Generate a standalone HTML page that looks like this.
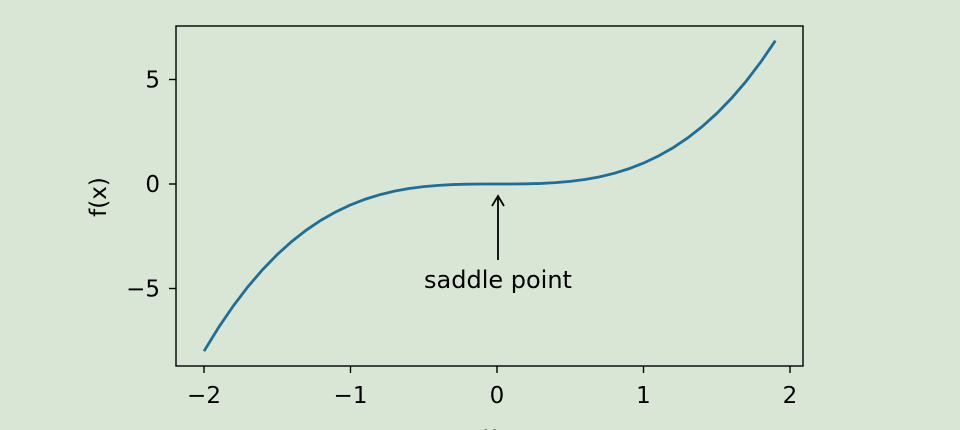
<!DOCTYPE html>
<html><head><meta charset="utf-8"><style>
html,body{margin:0;padding:0;background:#d9e6d6;}
svg{display:block;font-family:"DejaVu Sans","Liberation Sans",sans-serif;}
</style></head><body>
<svg id="chart" width="960" height="430" viewBox="0 0 960 430" xmlns="http://www.w3.org/2000/svg">
<rect x="0" y="0" width="960" height="430" fill="#d9e6d6"/>
<g id="ticks"></g>
<path id="curve" fill="none" stroke="#1f6e99" stroke-width="2.8"/>
<rect x="176" y="26" width="627" height="340" fill="none" stroke="#000" stroke-width="1.4"/>
<text transform="translate(106,197) rotate(-90)" text-anchor="middle" font-size="23">f(x)</text>
<text x="490" y="442" text-anchor="middle" font-size="23">x</text>
<g>
<line x1="498" y1="260" x2="498" y2="197" stroke="#000" stroke-width="1.8"/>
<path d="M492,206 L498,196 L504,206" fill="none" stroke="#000" stroke-width="1.8"/>
<text x="498" y="288" text-anchor="middle" font-size="24">saddle point</text>
</g>
</svg>
<script>
const xValues=[-2,-1.9,-1.8,-1.7,-1.6,-1.5,-1.4,-1.3,-1.2,-1.1,-1,-0.9,-0.8,-0.7,-0.6,-0.5,-0.4,-0.3,-0.2,-0.1,0,0.1,0.2,0.3,0.4,0.5,0.6,0.7,0.8,0.9,1,1.1,1.2,1.3,1.4,1.5,1.6,1.7,1.8,1.9];
const yValues=[-8,-6.859,-5.832,-4.913,-4.096,-3.375,-2.744,-2.197,-1.728,-1.331,-1,-0.729,-0.512,-0.343,-0.216,-0.125,-0.064,-0.027,-0.008,-0.001,0,0.001,0.008,0.027,0.064,0.125,0.216,0.343,0.512,0.729,1,1.331,1.728,2.197,2.744,3.375,4.096,4.913,5.832,6.859];
const xTicks=[-2,-1,0,1,2];
const yTicks=[-5,0,5];
const xTickLabels=["\u22122","\u22121","0","1","2"];
const yTickLabels=["\u22125","0","5"];
const sx=v=>497+v*146.5;
const sy=v=>184-v*20.9;
const ns="http://www.w3.org/2000/svg";
const g=document.getElementById('ticks');
xTicks.forEach((t,i)=>{
 const l=document.createElementNS(ns,'line');
 
 
 l.setAttribute('x1',sx(t));l.setAttribute('x2',sx(t));l.setAttribute('y1',366);l.setAttribute('y2',373);l.setAttribute('stroke','#000');l.setAttribute('stroke-width','1.4');
 g.appendChild(l);
 const tx=document.createElementNS(ns,'text');
 
 
 tx.setAttribute('x',sx(t));tx.setAttribute('y',403);tx.setAttribute('text-anchor','middle');tx.setAttribute('font-size','23');
 tx.textContent=xTickLabels[i];g.appendChild(tx);
});
yTicks.forEach((t,i)=>{
 const l=document.createElementNS(ns,'line');
 
 
 l.setAttribute('x1',169);l.setAttribute('x2',176);l.setAttribute('y1',sy(t));l.setAttribute('y2',sy(t));l.setAttribute('stroke','#000');l.setAttribute('stroke-width','1.4');
 g.appendChild(l);
 const tx=document.createElementNS(ns,'text');
 
 
 tx.setAttribute('x',160);tx.setAttribute('y',sy(t)+8);tx.setAttribute('text-anchor','end');tx.setAttribute('font-size','23');
 tx.textContent=yTickLabels[i];g.appendChild(tx);
});
document.getElementById('curve').setAttribute('d',xValues.map((x,i)=>(i?'L':'M')+sx(x).toFixed(2)+','+sy(yValues[i]).toFixed(2)).join(' '));
</script>
</body></html>
